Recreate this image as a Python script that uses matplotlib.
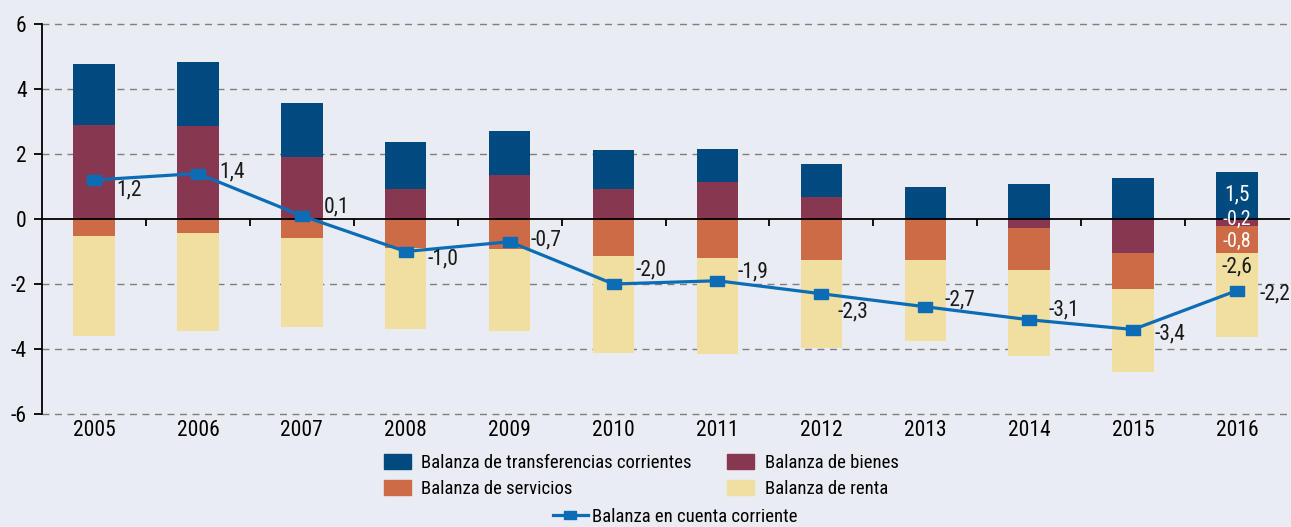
import matplotlib
matplotlib.use("Agg")
import matplotlib.pyplot as plt
from matplotlib.patches import Patch
from matplotlib.lines import Line2D
import numpy as np

years = ["2005", "2006", "2007", "2008", "2009", "2010", "2011", "2012", "2013", "2014", "2015", "2016"]
transferencias = [1.88, 1.97, 1.66, 1.45, 1.36, 1.19, 1.03, 1.00, 1.00, 1.08, 1.25, 1.46]
bienes = [2.88, 2.85, 1.91, 0.92, 1.35, 0.93, 1.13, 0.69, 0.00, -0.28, -1.05, -0.22]
servicios = [-0.52, -0.43, -0.58, -0.89, -0.92, -1.13, -1.21, -1.27, -1.27, -1.30, -1.10, -0.84]
renta = [-3.07, -3.02, -2.74, -2.49, -2.53, -2.98, -2.93, -2.69, -2.47, -2.64, -2.56, -2.58]
cuenta_corriente = [1.2, 1.4, 0.1, -1.0, -0.7, -2.0, -1.9, -2.3, -2.7, -3.1, -3.4, -2.2]

label_names = ["Balanza de transferencias corrientes", "Balanza de bienes",
               "Balanza de servicios", "Balanza de renta", "Balanza en cuenta corriente"]
yticks = [-6, -4, -2, 0, 2, 4, 6]

C_T = "#004A7F"
C_B = "#873850"
C_S = "#CD6B47"
C_R = "#F0DFA0"
C_L = "#0C6DB6"
BG = "#E9ECF2"

FONT = ["Roboto Condensed", "Liberation Sans Narrow", "Roboto", "DejaVu Sans"]
plt.rcParams["font.family"] = FONT
FS = 15.5
FS_LEG = 13.5

fig = plt.figure(figsize=(12.91, 5.27), dpi=100, facecolor=BG)
ax = fig.add_axes([42/1291, 1-414/527, (1289-42)/1291, (414-24)/527], facecolor=BG)

x = np.arange(len(years))
w = 0.4
pos = np.zeros(len(x))
neg = np.zeros(len(x))
series = [(bienes, C_B), (transferencias, C_T), (servicios, C_S), (renta, C_R)]
bottoms = {}
for vals, col in series:
    v = np.array(vals, dtype=float)
    base = np.where(v >= 0, pos, neg)
    ax.bar(x, v, w, bottom=base, color=col, edgecolor="none", zorder=2)
    bottoms[col] = base.copy()
    pos = np.where(v >= 0, pos + v, pos)
    neg = np.where(v < 0, neg + v, neg)

# line
mk = [(-1.35, -1), (1.35, -1), (1.35, 1), (-1.35, 1), (-1.35, -1)]
ax.plot(x, cuenta_corriente, color=C_L, lw=2.3, marker=mk, markersize=10,
        markerfacecolor=C_L, markeredgecolor=C_L, zorder=4)

def fmt(v):
    return f"{v:.1f}".replace(".", ",")

offsets = [(22, -10), (21, 2), (22, 9), (22, -7), (21, 2), (22, 14),
           (20, 9), (16, -18), (19, 7), (19, 10), (21, -4), (22, -3)]
for xi, v, off in zip(x, cuenta_corriente, offsets):
    ax.annotate(fmt(v), (xi, v), xytext=off, textcoords="offset pixels",
                ha="left", va="center", fontsize=FS, color="#1a1a1a", zorder=5,
                annotation_clip=False)

# labels inside last bar
i = len(x) - 1
inner = [(transferencias, C_T, "white", 0, FS),
         (bienes, C_B, "white", 3, 14.5),
         (servicios, C_S, "white", -2, 14.5)]
for vals, col, tc, dy, fs in inner:
    b = bottoms[col][i]
    ax.annotate(fmt(vals[i]), (x[i], b + vals[i] / 2), xytext=(0, dy),
                textcoords="offset pixels", ha="center", va="center",
                fontsize=fs, color=tc, zorder=5)
b = bottoms[C_R][i]
ax.annotate(fmt(renta[i]), (x[i], b), xytext=(0, -3), textcoords="offset pixels",
            ha="center", va="top", fontsize=FS, color="#1a1a1a", zorder=5)

# axes styling
ax.set_xlim(-0.5, len(x) - 0.5)
ax.set_ylim(-6, 6)
ax.set_yticks(yticks)
ax.set_yticklabels([str(t) for t in yticks])
for t in yticks:
    if t != 0:
        ax.axhline(t, color="#7f7f7f", lw=1.0, ls=(0, (5, 4)), zorder=1, clip_on=False)
ax.spines["top"].set_visible(False)
ax.spines["right"].set_visible(False)
ax.spines["left"].set_color("black")
ax.spines["left"].set_linewidth(1.3)
ax.spines["bottom"].set_position(("data", 0))
ax.spines["bottom"].set_color("black")
ax.spines["bottom"].set_linewidth(1.3)
ax.spines["bottom"].set_zorder(3)
ax.tick_params(axis="y", direction="out", length=6, width=1.3, labelsize=FS, pad=5)
ax.set_xticks(x[:-1] + 0.5)
ax.tick_params(axis="x", direction="out", length=5, width=1.3, labelbottom=False)

sec = ax.secondary_xaxis(0.0)
sec.set_xticks(x)
sec.set_xticklabels(years)
sec.tick_params(length=0, labelsize=FS, pad=4)
sec.spines["bottom"].set_visible(False)

# legends
handles = [Patch(color=C_T), Patch(color=C_S), Patch(color=C_B), Patch(color=C_R)]
labels = [label_names[0], label_names[2], label_names[1], label_names[3]]
leg1 = fig.legend(handles, labels, ncol=2, loc="center", bbox_to_anchor=(641/1291, 1-476/527),
                  frameon=False, fontsize=FS_LEG, handlelength=1.45, handleheight=0.85,
                  handletextpad=0.55, columnspacing=1.9, labelspacing=0.45,
                  borderpad=0.2)
lh = Line2D([], [], color=C_L, lw=2.3, marker=mk, markersize=8)
leg2 = fig.legend([lh], [label_names[4]], loc="center", bbox_to_anchor=(675/1291, 1-517/527),
                  frameon=False, fontsize=FS_LEG, handlelength=1.9, handletextpad=0.2,
                  borderpad=0.2)

fig.savefig("out.png", dpi=100, facecolor=BG)
